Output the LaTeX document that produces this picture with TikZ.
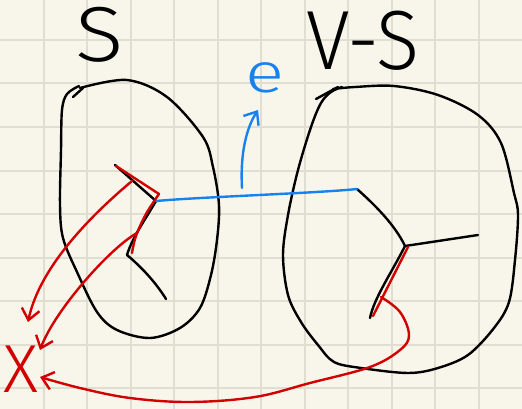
\documentclass[tikz,border=0pt]{standalone}
\usepackage{fontspec}
\newfontfamily\hand{Fira Sans Light}
\usetikzlibrary{arrows.meta}
\definecolor{paper}{RGB}{248,246,234}
\definecolor{gridc}{RGB}{224,222,208}
\definecolor{inkred}{RGB}{210,0,0}
\definecolor{inkblue}{RGB}{22,130,240}
\tikzset{
  pen/.style={line width=2.4pt, line cap=round, line join=round},
  blackpen/.style={pen, black},
  redpen/.style={pen, inkred},
  bluepen/.style={pen, inkblue},
  barb/.style={-{Straight Barb[length=11pt,width=18pt,line width=2.4pt]}},
  label/.style={inner sep=0pt, anchor=base, font=\hand}
}
\begin{document}
\begin{tikzpicture}[x=1pt,y=-1pt]
  % paper and grid
  \fill[paper] (0,0) rectangle (522,409);
  \useasboundingbox (0,0) rectangle (522,409);
  \foreach \k in {1,...,11} \draw[gridc, line width=2pt] (43.5*\k,0) -- (43.5*\k,409);
  \foreach \k in {0,...,8} \draw[gridc, line width=2pt] (0,40+43.5*\k) -- (522,40+43.5*\k);

  % labels
  \node[label, font=\hand\fontsize{78}{80}\selectfont, xscale=1.15] (S) at (100,62) {S};
  \node[label, font=\hand\fontsize{84}{86}\selectfont, xscale=0.95] (VS) at (363,70) {V-S};
  \node[label, font=\hand\fontsize{56}{58}\selectfont, inkblue, xscale=1.3] (e) at (265,93) {e};
  \node[label, font=\hand\fontsize{68}{70}\selectfont, inkred] (X) at (21,392) {X};

  % left blob (S)
  \draw[blackpen] (73,97) -- (83,88);
  \draw[blackpen] plot[smooth, tension=0.55] coordinates {
    (80,88) (127,80) (167,97) (203,137) (213,167) (219,205) (217,240)
    (211,275) (200,308) (180,328) (150,338) (117,330) (97,312) (77,272)
    (63,238) (60,205) (61,150) (62,110) (67,94) (79,86)};

  % right blob (V-S)
  \draw[blackpen] (316,99) -- (338,87);
  \draw[blackpen] plot[smooth, tension=0.55] coordinates {
    (333,89) (355,87) (394,86) (438,95) (478,115) (501,143) (514,193)
    (518,215) (515,260) (509,302) (494,328) (468,355) (438,368) (408,373)
    (361,368) (334,362) (318,345) (301,322) (288,295) (283,255) (288,215)
    (298,170) (311,127) (321,103) (331,92) (342,87)};

  % left tree
  \coordinate (A) at (115,165);
  \coordinate (B) at (156,201);
  \coordinate (C) at (127,255);
  \coordinate (D) at (166,299);
  \draw[blackpen] (A) -- (B);
  \draw[blackpen] (B) .. controls (145,220) and (132,238) .. (C);
  \draw[blackpen] (C) .. controls (145,270) and (158,286) .. (D);

  % right tree
  \coordinate (G) at (357,189);
  \coordinate (E) at (405,246);
  \coordinate (H) at (478,235);
  \coordinate (F) at (370,318);
  \draw[blackpen] (G) .. controls (375,205) and (395,225) .. (E);
  \draw[blackpen] (E) -- (H);
  \draw[blackpen] (E) .. controls (392,272) and (374,298) .. (F);

  % blue edge e and its label arrow
  \draw[bluepen] (B) .. controls (200,197) and (320,193) .. (G);
  \coordinate (et) at (242,188);
  \coordinate (eh) at (258,110);
  \draw[bluepen, barb] (et) .. controls (240,152) and (247,127) .. (eh);

  % red overlays on tree edges
  \draw[redpen] (116,166) -- (159,194);
  \draw[redpen] plot[smooth, tension=0.6] coordinates {(159,194) (146,214) (136,236) (132,253)};
  \draw[redpen] (408,247) -- (373,316);

  % red arrows to X
  \coordinate (r1) at (132,181);
  \coordinate (r2) at (137,233);
  \coordinate (r3) at (381,297);
  \coordinate (x1) at (28,322);
  \coordinate (x2) at (40,350);
  \coordinate (x3) at (40,377);
  \draw[redpen, barb] (r1) .. controls (95,212) and (40,265) .. (x1);
  \draw[redpen, barb] (r2) .. controls (110,248) and (55,310) .. (x2);
  \draw[redpen, barb] plot[smooth, tension=0.6] coordinates {
    (r3) (400,312) (409,335) (400,350) (370,367) (310,383) (255,397)
    (190,402) (130,398) (80,388) (x3)};
\end{tikzpicture}
\end{document}
